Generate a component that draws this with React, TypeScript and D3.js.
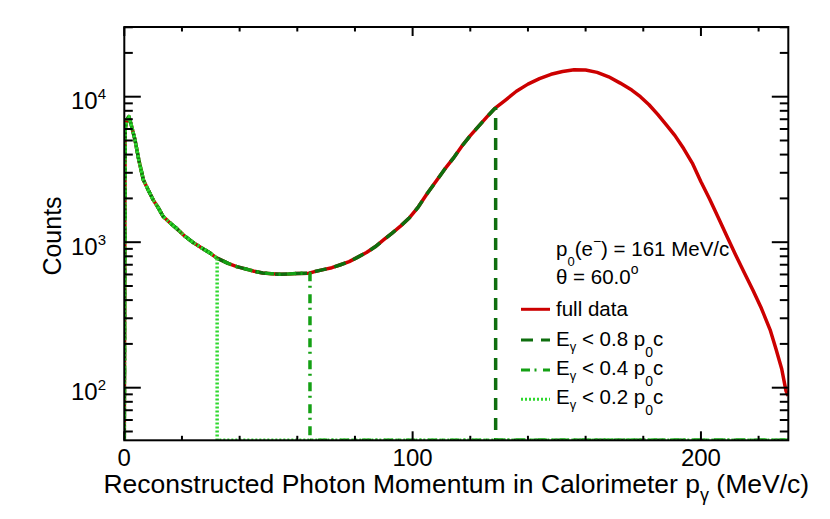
import { useMemo } from 'react';
import * as d3 from 'd3';

// reconstructed photon momentum (MeV/c) and counts
const momentum = [
  0, 0.3, 1.0, 1.6, 2.5, 3.7, 5, 6.6, 8, 10, 11.5, 13.5, 16, 18, 21, 24, 27, 30, 32, 36, 39, 42, 45, 48,
  51, 54, 57, 60, 64, 66, 69, 72, 75, 78, 81, 84, 87, 90, 93, 96, 99, 102, 105, 108, 111, 114, 117, 120,
  123, 126, 128.5, 132, 136, 140, 144, 148, 152, 156, 160, 164, 168, 172, 176, 179, 182, 185, 188, 191,
  194, 197, 200, 203, 206, 209, 212, 215, 218, 221, 224, 226, 228, 229.5, 230.2,
];
const fullCounts = [
  0, 6000, 7000, 7300, 6300, 5060, 3700, 2690, 2350, 1955, 1760, 1500, 1350, 1250, 1100, 990, 910, 835,
  780, 715, 680, 655, 632, 615, 608, 602, 605, 610, 612, 628, 648, 668, 700, 735, 790, 850, 930, 1040,
  1160, 1300, 1480, 1750, 2150, 2600, 3150, 3750, 4550, 5400, 6300, 7350, 8300, 9400, 10900, 12200,
  13300, 14250, 14900, 15300, 15250, 14700, 13700, 12400, 11100, 10000, 8800, 7550, 6400, 5400, 4400,
  3500, 2600, 1980, 1480, 1100, 820, 620, 470, 350, 250, 185, 135, 95, 88,
];

// energy cuts, in units of p0 c (p0 = 161 MeV/c)
const p0 = 161;
const cutFractions = [0.8, 0.4, 0.2];
const cutLabels = ['0.8', '0.4', '0.2'];
const cutColors = ['#0e6e0e', '#14a014', '#2ed82e'];
const cutDashes = ['12 8', '9 4.5 2 6.5', '2 2'];

const xTicksMajor = [0, 100, 200];
const xTicksMinor = d3.range(0, 231, 20);
const yTicksMajor = [1e2, 1e3, 1e4];
const yTickExp = ['2', '3', '4'];

const W = 830;
const H = 519;
const frame = { left: 124.3, right: 788.3, top: 27, bottom: 440.3 };
const font = '"Liberation Sans", Arial, Helvetica, sans-serif';

export default function App() {
  const x = d3.scaleLinear().domain([0, 230.3]).range([frame.left, frame.right]);
  const y = d3.scaleLog().domain([43.5, 30130]).range([frame.bottom, frame.top]);
  const yMin = y.domain()[0];

  const line = d3
    .line<[number, number]>()
    .x((d) => x(d[0]))
    .y((d) => (d[1] > 0 ? y(d[1]) : y(yMin)));

  const full: [number, number][] = momentum.map((p, i) => [p, fullCounts[i]]);

  // each cut histogram follows the full one up to the cut, then sits on the floor
  const cutPaths = useMemo(
    () =>
      cutFractions.map((f) => {
        const cut = f * p0;
        const pts = full.filter((d) => d[0] < cut);
        const last = pts[pts.length - 1][1];
        return [...pts, [cut, last], [cut, 0], [x.domain()[1], 0]] as [number, number][];
      }),
    []
  );

  const yMinor: number[] = [];
  for (let e = 1; e <= 4; e++) {
    for (let m = 2; m <= 9; m++) {
      const v = m * 10 ** e;
      if (v > y.domain()[0] && v < y.domain()[1]) yMinor.push(v);
    }
  }

  const legendY = [309.3, 340, 370, 399.3];
  const legendText = [315.5, 345.5, 375, 404];

  return (
    <svg
      width={W}
      height={H}
      style={{ position: 'absolute', left: 0, top: 0, background: '#fff' }}
      fontFamily={font}
    >
      <defs>
        <clipPath id="frame">
          <rect x={frame.left} y={frame.top} width={frame.right - frame.left} height={frame.bottom - frame.top} />
        </clipPath>
      </defs>

      <g clipPath="url(#frame)" fill="none" strokeLinejoin="round">
        <path d={line(full) ?? ''} stroke="#cc0000" strokeWidth={3.5} />
        {cutPaths.map((pts, i) => (
          <path key={i} d={line(pts) ?? ''} stroke={cutColors[i]} strokeWidth={3.5} strokeDasharray={cutDashes[i]} />
        ))}
      </g>

      {/* frame and ticks */}
      <g stroke="#000" strokeWidth={2}>
        <rect
          x={frame.left}
          y={frame.top}
          width={frame.right - frame.left}
          height={frame.bottom - frame.top}
          fill="none"
        />
        {xTicksMinor.map((t) => {
          const len = xTicksMajor.includes(t) ? 9 : 4.5;
          return (
            <g key={'x' + t}>
              <line x1={x(t)} x2={x(t)} y1={frame.bottom} y2={frame.bottom - len} />
              <line x1={x(t)} x2={x(t)} y1={frame.top} y2={frame.top + len} />
            </g>
          );
        })}
        {yTicksMajor.map((t) => (
          <g key={'y' + t}>
            <line x1={frame.left} x2={frame.left + 16.5} y1={y(t)} y2={y(t)} />
            <line x1={frame.right} x2={frame.right - 16.5} y1={y(t)} y2={y(t)} />
          </g>
        ))}
        {yMinor.map((t) => (
          <g key={'ym' + t}>
            <line x1={frame.left} x2={frame.left + 8.5} y1={y(t)} y2={y(t)} />
            <line x1={frame.right} x2={frame.right - 8.5} y1={y(t)} y2={y(t)} />
          </g>
        ))}
      </g>

      {/* tick labels */}
      <g fontSize={24} fill="#000">
        {xTicksMajor.map((t) => (
          <text key={t} x={x(t)} y={466} textAnchor="middle">
            {t}
          </text>
        ))}
        {yTicksMajor.map((t, i) => (
          <text key={t} x={106} y={y(t) + 12.5} textAnchor="end">
            10
            <tspan fontSize={15} dy={-10}>
              {yTickExp[i]}
            </tspan>
          </text>
        ))}
      </g>

      {/* axis titles */}
      <text x={(frame.left + frame.right) / 2} y={492.5} fontSize={26.5} textAnchor="middle">
        Reconstructed Photon Momentum in Calorimeter p
        <tspan fontSize={18} dy={8}>
          γ
        </tspan>
        <tspan dy={-8}> (MeV/c)</tspan>
      </text>
      <text transform="translate(60.5,236) rotate(-90)" fontSize={25} textAnchor="middle">
        Counts
      </text>

      {/* annotation */}
      <g fontSize={20.5}>
        <text x={556} y={256}>
          p
          <tspan fontSize={13} dy={10}>
            0
          </tspan>
          <tspan dy={-10}>(e</tspan>
          <tspan fontSize={14} dy={-10}>
            −
          </tspan>
          <tspan dy={10}>) = 161 MeV/c</tspan>
        </text>
        <text x={556} y={283.5}>
          θ = 60.0
          <tspan fontSize={14} dy={-10}>
            o
          </tspan>
        </text>
      </g>

      {/* legend */}
      <g fontSize={20.5}>
        <line x1={521} x2={550} y1={legendY[0]} y2={legendY[0]} stroke="#cc0000" strokeWidth={3} />
        <text x={556} y={legendText[0]}>
          full data
        </text>
        {cutLabels.map((lab, i) => (
          <g key={lab}>
            <line
              x1={521}
              x2={550}
              y1={legendY[i + 1]}
              y2={legendY[i + 1]}
              stroke={cutColors[i]}
              strokeWidth={3}
              strokeDasharray={cutDashes[i]}
            />
            <text x={556} y={legendText[i + 1]}>
              E
              <tspan fontSize={13} dy={5}>
                γ
              </tspan>
              <tspan dy={-5}>{` < ${lab} p`}</tspan>
              <tspan fontSize={14} dy={11}>
                0
              </tspan>
              <tspan dy={-11}>c</tspan>
            </text>
          </g>
        ))}
      </g>
    </svg>
  );
}
